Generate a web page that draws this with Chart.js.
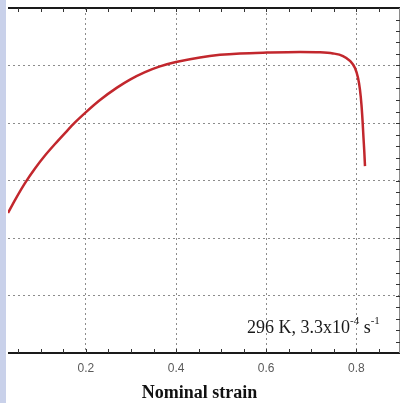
<!DOCTYPE html>
<html>
<head>
<meta charset="utf-8">
<script src="https://cdn.jsdelivr.net/npm/chart.js@4"></script>
<style>
  html, body { margin: 0; padding: 0; background: #fff; }
  #wrap { position: relative; width: 401px; height: 403px; }
</style>
</head>
<body>
<div id="wrap"><canvas id="strainChart" width="401" height="403"></canvas></div>
<script>
// nominal strain / stress (stress axis labels are cropped away)
const strain = [0.027, 0.0425, 0.0647, 0.0869, 0.1091, 0.1313, 0.1535, 0.1757, 0.2001, 0.2312, 0.2689, 0.2978, 0.3311, 0.3643, 0.3999, 0.4531, 0.4975, 0.5419, 0.6018, 0.6751, 0.7195, 0.7483, 0.7705, 0.786, 0.7971, 0.8038, 0.8082, 0.8115, 0.8138, 0.816, 0.8178, 0.8193];
const stress = [487, 532, 591, 642, 687, 727, 765, 802, 838, 880, 923, 951, 977, 997, 1012, 1028, 1037, 1042, 1045, 1047, 1046, 1042, 1033, 1016, 991, 957, 915, 863, 810, 748, 699, 650];
const xTicks = [0.2, 0.4, 0.6, 0.8];
const yTicks = [0, 200, 400, 600, 800, 1000, 1200];
const xMinor = [0.05, 0.1, 0.15, 0.2, 0.25, 0.3, 0.35, 0.4, 0.45, 0.5, 0.55, 0.6, 0.65, 0.7, 0.75, 0.8, 0.85];
const yMinor = [40, 80, 120, 160, 200, 240, 280, 320, 360, 400, 440, 480, 520, 560, 600, 640, 680, 720, 760, 800, 840, 880, 920, 960, 1000, 1040, 1080, 1120, 1160];
const xLabel = 'Nominal strain';

function frame() {
    return {
        id: 'frame',
        beforeDraw(chart) {
            const c = chart.ctx;
            c.save();
            c.fillStyle = '#c9d1ea';
            c.fillRect(0, 0, 6, chart.height);
            c.restore();
        },
        afterDatasetsDraw(chart) {
            const c = chart.ctx;
            const a = chart.chartArea;
            const x = chart.scales.x, y = chart.scales.y;
            c.save();
            // top and bottom axes
            c.strokeStyle = '#1a1a1a';
            c.lineWidth = 2;
            c.beginPath();
            c.moveTo(a.left, a.top); c.lineTo(a.right, a.top);
            c.moveTo(a.left, a.bottom); c.lineTo(a.right, a.bottom);
            c.stroke();
            // right axis
            c.strokeStyle = '#8a8a8a';
            c.lineWidth = 1;
            c.beginPath();
            c.moveTo(a.right - 0.5, a.top); c.lineTo(a.right - 0.5, a.bottom);
            c.stroke();
            // minor ticks
            c.strokeStyle = '#333';
            c.beginPath();
            xMinor.forEach(v => {
                const px = Math.round(x.getPixelForValue(v)) + 0.5;
                c.moveTo(px, a.top); c.lineTo(px, a.top + 4);
                c.moveTo(px, a.bottom); c.lineTo(px, a.bottom - 4);
            });
            yMinor.forEach(v => {
                const py = Math.round(y.getPixelForValue(v)) + 0.5;
                c.moveTo(a.right, py); c.lineTo(a.right - 4, py);
            });
            c.stroke();
            // annotation
            c.fillStyle = '#1a1a1a';
            c.textBaseline = 'alphabetic';
            let tx = 247;
            const ty = 333;
            const big = '18px "Liberation Serif", serif';
            const small = '11px "Liberation Serif", serif';
            const parts = [['296 K, 3.3x10', big, 0], ['-4', small, -9], [' s', big, 0], ['-1', small, -9]];
            parts.forEach(p => {
                c.font = p[1];
                c.fillText(p[0], tx, ty + p[2]);
                tx += c.measureText(p[0]).width;
            });
            c.restore();
        }
    };
}

function strainChart() {
    var ctx = document.getElementById('strainChart').getContext('2d');
    var chart = new Chart(ctx, {
        type: 'line',
        data: {
            datasets: [{
                data: strain.map((v, i) => ({x: v, y: stress[i]})),
                borderColor: '#c2272d',
                borderWidth: 2.5,
                pointRadius: 0,
                cubicInterpolationMode: 'monotone',
                fill: false
            }]
        },
        options: {
            responsive: false,
            animation: false,
            layout: { padding: { left: 8, top: 8, right: 1, bottom: 0 } },
            plugins: {
                legend: { display: false },
                tooltip: { enabled: false }
            },
            scales: {
                x: {
                    type: 'linear',
                    min: 0.027,
                    max: 0.897,
                    afterBuildTicks: s => { s.ticks = xTicks.map(v => ({value: v})); },
                    afterFit: s => { s.height = 50; },
                    ticks: {
                        padding: 8,
                        color: '#5a5a5a',
                        font: { family: '"Liberation Sans", Arial, sans-serif', size: 12 },
                        callback: v => v.toFixed(1)
                    },
                    grid: { color: '#8c8c8c', lineWidth: 1, drawTicks: false },
                    border: { display: false, dash: [2, 3] },
                    title: {
                        display: true,
                        text: xLabel + '  ',
                        color: '#111',
                        font: { family: '"Liberation Serif", serif', size: 18, weight: 'bold' },
                        padding: { top: 0, bottom: -1 }
                    }
                },
                y: {
                    min: 0,
                    max: 1200,
                    afterBuildTicks: s => { s.ticks = yTicks.map(v => ({value: v})); },
                    afterFit: s => { s.width = 0; },
                    ticks: { display: false },
                    grid: { color: '#8c8c8c', lineWidth: 1, drawTicks: false },
                    border: { display: false, dash: [2, 3] }
                }
            }
        },
        plugins: [frame()]
    });
}

window.onload = function() {
    strainChart();
};
</script>
</body>
</html>
